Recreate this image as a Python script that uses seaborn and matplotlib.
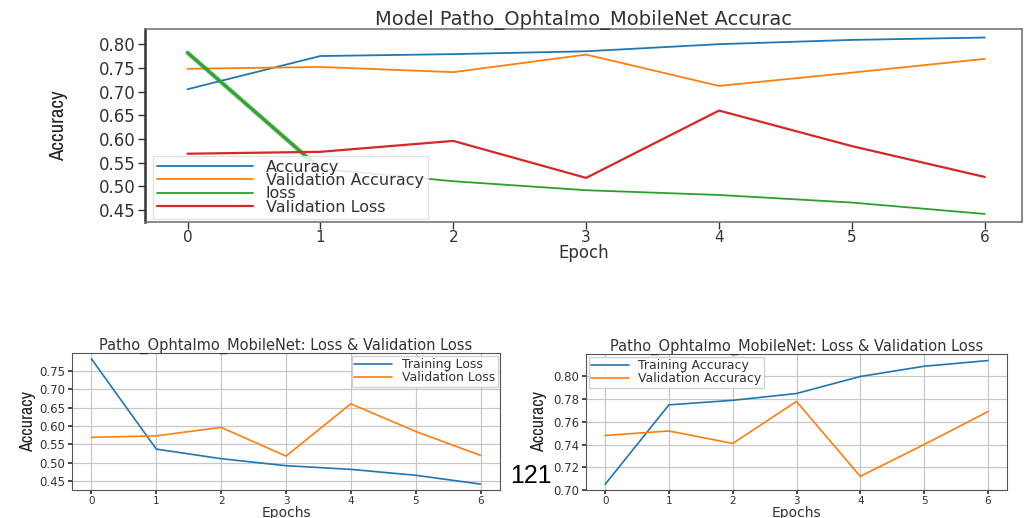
import matplotlib
matplotlib.use("Agg")
import matplotlib.pyplot as plt
from matplotlib import font_manager
import seaborn as sns
import pandas as pd

epochs = [0, 1, 2, 3, 4, 5, 6]
train_acc = [0.705, 0.775, 0.779, 0.785, 0.800, 0.809, 0.814]
val_acc = [0.748, 0.752, 0.741, 0.778, 0.712, 0.740, 0.769]
train_loss = [0.782, 0.537, 0.511, 0.492, 0.482, 0.466, 0.442]
val_loss = [0.569, 0.573, 0.596, 0.518, 0.660, 0.585, 0.520]

top_title = "Model Patho_Ophtalmo_MobileNet Accurac"
bottom_title = "Patho_Ophtalmo_MobileNet: Loss & Validation Loss"
top_yticks = [0.45, 0.50, 0.55, 0.60, 0.65, 0.70, 0.75, 0.80]
loss_yticks = [0.45, 0.50, 0.55, 0.60, 0.65, 0.70, 0.75]
acc_yticks = [0.70, 0.72, 0.74, 0.76, 0.78, 0.80]

sns.set_theme(style="white")
plt.rcParams["font.family"] = ["DejaVu Sans"]

# pick a condensed face for the y-axis labels when one is installed
_names = sorted({f.name for f in font_manager.fontManager.ttflist})
_narrow = [n for n in _names if "Narrow" in n or "Condensed" in n]
narrow = (_narrow[:1] if _narrow else []) + ["Liberation Sans", "DejaVu Sans"]
narrow_stretch = "normal" if _narrow else "condensed"

blue, orange, green, red = sns.color_palette("tab10", 4)

fig = plt.figure(figsize=(10.24, 5.18), dpi=100)
W, H = 1024, 518


def box(l, t, r, b):
    return [l / W, 1 - b / H, (r - l) / W, (b - t) / H]


# ---- top: all four curves on one axis ----
ax = fig.add_axes(box(145, 29, 1022, 222))
df = pd.DataFrame({"epoch": epochs, "acc": train_acc, "vacc": val_acc,
                   "loss": train_loss, "vloss": val_loss})
sns.lineplot(data=df, x="epoch", y="acc", ax=ax, color=blue, lw=1.3, label="Accuracy")
sns.lineplot(data=df, x="epoch", y="vacc", ax=ax, color=orange, lw=1.3, label="Validation Accuracy")
sns.lineplot(data=df, x="epoch", y="loss", ax=ax, color=green, lw=1.3, label="loss")
sns.lineplot(data=df.iloc[:2], x="epoch", y="loss", ax=ax, color=green, lw=3.0, alpha=0.8)
sns.lineplot(data=df, x="epoch", y="vloss", ax=ax, color=red, lw=1.6, label="Validation Loss")
ax.set_xlim(-0.32, 6.28)
ax.set_ylim(0.425, 0.832)
ax.set_yticks(top_yticks)
ax.set_yticklabels([f"{v:.2f}" for v in top_yticks])
ax.set_xticks(epochs)
ax.tick_params(axis="both", labelsize=12, colors="#333333", length=5, width=1,
               bottom=True, left=True, pad=2)
ax.tick_params(axis="x", labelsize=11, pad=1)
ax.set_title(top_title, fontsize=14, color="#333333", pad=3)
ax.set_xlabel("Epoch", fontsize=12, color="#333333", labelpad=-1)
ax.set_ylabel("Accuracy", fontsize=15, family=narrow, stretch=narrow_stretch,
              color="#222222", labelpad=22)
for s in ["top", "right", "bottom"]:
    ax.spines[s].set_color("#777777")
    ax.spines[s].set_linewidth(1.2)
ax.spines["left"].set_color("#333333")
ax.spines["left"].set_linewidth(1.8)
leg = ax.legend(loc="lower left", bbox_to_anchor=(0.0, -0.025), fontsize=11.5,
                handlelength=6, labelspacing=-0.1, borderpad=0.25,
                frameon=True, fancybox=False, framealpha=0.85,
                edgecolor="#dddddd")
for t in leg.get_texts():
    t.set_color("#333333")

# ---- bottom left: losses ----
ax2 = fig.add_axes(box(72, 353, 500, 490))
sns.lineplot(x=epochs, y=train_loss, ax=ax2, color=blue, lw=1.2, label="Training Loss")
sns.lineplot(x=epochs, y=val_loss, ax=ax2, color=orange, lw=1.2, label="Validation Loss")
ax2.set_xlim(-0.3, 6.3)
ax2.set_ylim(0.426, 0.798)
ax2.set_yticks(loss_yticks)
ax2.set_yticklabels([f"{v:.2f}" for v in loss_yticks])
ax2.set_xticks(epochs)

# ---- bottom right: accuracies ----
ax3 = fig.add_axes(box(586, 354, 1007, 490))
sns.lineplot(x=epochs, y=train_acc, ax=ax3, color=blue, lw=1.2, label="Training Accuracy")
sns.lineplot(x=epochs, y=val_acc, ax=ax3, color=orange, lw=1.2, label="Validation Accuracy")
ax3.set_xlim(-0.3, 6.3)
ax3.set_ylim(0.70, 0.8198)
ax3.set_yticks(acc_yticks)
ax3.set_yticklabels([f"{v:.2f}" for v in acc_yticks])
ax3.set_xticks(epochs)

for a, loc, lp in [(ax2, "upper right", 2), (ax3, "upper left", 4)]:
    a.grid(True, color="#c8c8c8", lw=0.9)
    a.tick_params(axis="both", labelsize=8.5, colors="#333333", length=3,
                  bottom=True, left=True, pad=2)
    a.tick_params(axis="x", labelsize=7.5, pad=1)
    a.set_title(bottom_title, fontsize=10.5, color="#333333", pad=2)
    a.set_xlabel("Epochs", fontsize=10, color="#333333", labelpad=0)
    a.set_ylabel("Accuracy", fontsize=13, family=narrow, stretch=narrow_stretch,
                 color="#222222", labelpad=lp)
    for s in a.spines.values():
        s.set_color("#555555")
        s.set_linewidth(0.8)
    lg = a.legend(loc=loc, fontsize=9, handlelength=3, labelspacing=0.0,
                  borderpad=0.2, borderaxespad=0.2, fancybox=False,
                  framealpha=0.9, edgecolor="#cccccc")
    for t in lg.get_texts():
        t.set_color("#333333")

fig.text(531 / W, 1 - 476 / H, "121", fontsize=18, color="black",
         family=["Liberation Sans", "DejaVu Sans"], ha="center", va="center")

fig.savefig("out.png", dpi=100)
